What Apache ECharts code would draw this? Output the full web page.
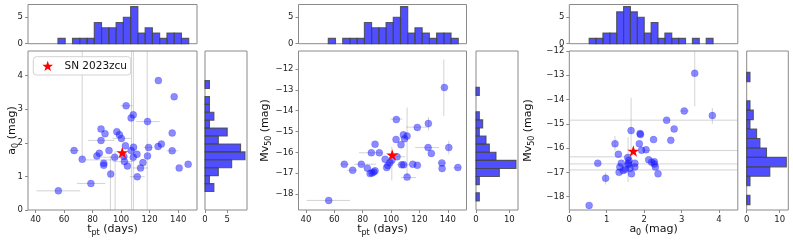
<!DOCTYPE html>
<html><head><meta charset="utf-8">
<script src="https://cdn.jsdelivr.net/npm/echarts@6/dist/echarts.min.js"></script>
<style>html,body{margin:0;padding:0;background:#fff}#c{width:793px;height:243px}</style>
</head><body><div id="c"></div>
<script>
// ---------------- data ----------------
// Panel 1: t_pt vs a0
const tpt1 = [126.1,137.2,103.5,108.5,107.0,118.5,85.9,88.7,97.0,98.8,100.2,135.8,85.9,67.0,72.7,83.0,84.7,87.8,87.8,91.5,92.7,95.5,103.0,107.0,108.7,101.9,104.4,102.3,108.5,111.1,113.6,115.3,118.5,119.3,111.3,125.9,128.2,135.8,140.7,147.0,56.0,78.8];
const a0_1 = [3.85,3.37,3.10,2.83,2.74,2.63,2.41,2.27,2.33,2.24,2.13,2.29,2.07,1.77,1.51,1.61,1.69,1.39,1.33,1.77,1.07,1.57,1.91,1.77,1.87,1.59,1.31,1.44,1.57,1.66,1.25,1.41,1.61,1.86,0.99,1.89,1.96,1.76,1.25,1.36,0.57,0.79];
// Panel 2: t_pt vs Mv50
const tpt2 = [137.6,103.7,126.3,118.5,108.7,111.3,109.5,103.5,107.0,88.7,126.1,140.7,128.4,86.1,91.7,104.2,95.8,100.5,99.1,97.7,96.9,67.0,79.0,72.9,83.3,85.2,86.6,87.8,88.7,107.5,108.9,115.3,118.5,135.8,136.0,147.1,111.3,56.0];
const mv2 = [-12.88,-14.42,-14.61,-14.80,-15.16,-15.22,-15.35,-15.38,-15.64,-15.61,-15.77,-15.77,-16.05,-16.02,-16.02,-16.21,-16.33,-16.38,-16.50,-16.63,-16.73,-16.57,-16.57,-16.86,-16.76,-17.02,-16.99,-16.94,-16.89,-16.60,-16.60,-16.57,-16.62,-16.51,-16.78,-16.73,-17.19,-18.31];
// Panel 3: a0 vs Mv50
const a0_3 = [3.35,3.07,3.82,2.60,2.80,1.65,1.89,1.90,2.71,2.25,1.22,1.87,1.31,1.93,2.05,1.56,1.59,2.12,2.20,2.27,2.30,2.37,0.76,1.39,1.35,1.33,1.44,1.50,1.57,1.62,1.66,1.75,1.75,0.97,0.53,1.58,2.27];
const mv3 = [-12.92,-14.47,-14.66,-14.85,-15.21,-15.28,-15.40,-15.44,-15.68,-15.65,-15.82,-15.82,-16.25,-16.09,-16.07,-16.39,-16.51,-16.48,-16.58,-16.56,-16.78,-17.06,-16.62,-16.62,-16.78,-17.00,-16.92,-16.87,-16.69,-16.83,-17.06,-16.62,-16.78,-17.24,-18.36,-16.62,-16.66];
// SN 2023zcu: [t_pt, a0, Mv50]
const snStar = [100.8, 1.71, -16.12];
const snName = 'SN 2023zcu';

// error bars: horizontal [y, xlo, xhi], vertical [x, ylo, yhi]
const errH1 = [[0.57,40.7,71.3],[0.79,69,89],[1.77,64,70.5],[2.07,76.9,95.3],[3.10,99.5,108.2],[2.13,94,107],[2.63,110.6,127],[1.49,74.8,94.1],[0.99,106,116.5],[1.57,86,105],[1.44,94.1,109.4],[1.25,108,119],[1.76,132,140],[1.86,116,122]];
const errV1 = [[72.7,1.51,5],[92.5,-0.1,1.6],[95.8,-0.1,1.75],[107.3,-0.1,5],[108.6,-0.1,5],[118.3,-0.1,5]];
const errH2 = [[-18.31,40.5,71],[-14.40,99.5,108],[-14.79,110.6,127],[-15.77,117,134],[-16.02,77.4,94],[-16.57,64.5,70.5],[-16.57,74,89.5],[-16.86,69,76],[-16.74,144,149],[-17.21,107,117.6],[-16.6,104,113],[-16.21,100,110],[-16.51,133,139]];
const errV2 = [[137.2,-14.25,-11.53],[126.4,-14.95,-14.3],[111.3,-17.15,-13.85],[140.7,-16.1,-15.45],[100.5,-17.35,-15.74]];
const errH3 = [[-14.85,-1,6],[-14.47,2.95,3.2],[-16.1,2.0,6],[-16.36,-1,1.6],[-16.65,-1,6],[-16.9,-1,6]];
const errV3 = [[3.35,-14.28,-11.5],[3.82,-15.0,-14.35],[1.65,-16.69,-13.93],[1.22,-16.1,-15.5],[0.97,-17.5,-17.0],[1.57,-17.4,-15.55]];

// histograms: counts per bin (low -> high), bin range
const tptHist = [1,0,1,1,1,4,3,3,4,5,7,2,3,2,1,2,2,1];
const tptBinLo = 55.7, tptBinHi = 147.4;
const a0HistRight = [2,1,3,6,9,8,3,5,1,2,1,1,0,1];
const a0RightLo = 0.55, a0RightHi = 3.85;
const a0HistTop = [1,1,2,2,6,7,6,5,2,4,1,2,1,1,0,1,0,1];
const a0TopLo = 0.53, a0TopHi = 3.84;
const mvHist = [1,0,1,7,12,6,4,3,1,2,1,0,0,1];
const mvLo = -18.33, mvHi = -12.88;

// tick labels
const tptTicks = [40,60,80,100,120,140];
const a0Ticks = [0,1,2,3,4];
const mvTicks = [-18,-17,-16,-15,-14,-13,-12];
const histTicks5 = [0,5];
const histTicks10 = [0,10];

// ---------------- chart ----------------
const FONT = 'DejaVu Sans';
const FRAME = '#8a8a8a';
const chart = echarts.init(document.getElementById('c'), null, {renderer: 'canvas'});
const starPath = 'path://M50,0 L61.2,34.5 L97.6,34.5 L68.2,55.9 L79.4,90.5 L50,69.1 L20.6,90.5 L31.8,55.9 L2.4,34.5 L38.8,34.5 Z';
const minus = v => String(v).replace('-', '\u2212');

const rich = {
  a: {fontSize: 11, lineHeight: 16, fontFamily: FONT, color: '#111'},
  s: {fontSize: 8, lineHeight: 8, verticalAlign: 'bottom', fontFamily: FONT, color: '#111'}
};

const grids = [
  {left: 28, top: 51, width: 169, height: 159},
  {left: 28, top: 4.5, width: 169, height: 39.2},
  {left: 205, top: 51, width: 42, height: 159},
  {left: 298.5, top: 51, width: 168, height: 159},
  {left: 298.5, top: 4.5, width: 168, height: 39.2},
  {left: 476, top: 51, width: 42, height: 159},
  {left: 569.3, top: 51, width: 168.5, height: 159},
  {left: 569.3, top: 4.5, width: 168.5, height: 39.2},
  {left: 746.7, top: 51, width: 41.6, height: 159}
].map(g => Object.assign({show: true, borderColor: FRAME, borderWidth: 1, backgroundColor: 'transparent', containLabel: false}, g));

function axis(gi, min, max, ticks, opts) {
  opts = opts || {};
  const show = !!ticks;
  const a = {
    type: 'value', gridIndex: gi, min: min, max: max, scale: true,
    splitLine: {show: false},
    axisLine: {show: false},
    axisTick: {show: show, length: 3, lineStyle: {color: FRAME}, customValues: ticks || undefined},
    axisLabel: {show: show, margin: 5, fontSize: 8.5, fontFamily: FONT, color: '#222', formatter: minus, customValues: ticks || undefined, showMinLabel: true, showMaxLabel: true},
    splitNumber: 5
  };
  if (opts.name) {
    a.name = opts.name;
    a.nameLocation = 'middle';
    a.nameGap = opts.nameGap;
    a.nameMoveOverlap = false;
    a.nameTextStyle = {rich: rich, fontFamily: FONT};
  }
  return a;
}

const X1 = [34.7, 153.2], Y1 = [0, 4.73], Y2 = [-18.77, -11.13], X3 = [0, 4.5], Y3 = [-18.55, -12];
const tptName = '{a|t}{s|pt}{a| (days)}';
const a0Name = '{a|a}{s|0}{a| (mag)}';
const mvName = '{a|Mv}{s|50}{a| (mag)}';

const xAxis = [
  axis(0, X1[0], X1[1], tptTicks, {name: tptName, nameGap: 11}),
  axis(1, X1[0], X1[1], null),
  axis(2, 0, 9.45, histTicks5),
  axis(3, X1[0], X1[1], tptTicks, {name: tptName, nameGap: 11}),
  axis(4, X1[0], X1[1], null),
  axis(5, 0, 12.6, histTicks10),
  axis(6, X3[0], X3[1], a0Ticks, {name: a0Name, nameGap: 11}),
  axis(7, X3[0], X3[1], null),
  axis(8, 0, 12.6, histTicks10)
];
const yAxis = [
  axis(0, Y1[0], Y1[1], a0Ticks, {name: a0Name, nameGap: 8}),
  axis(1, 0, 7.4, histTicks5),
  axis(2, Y1[0], Y1[1], null),
  axis(3, Y2[0], Y2[1], mvTicks, {name: mvName, nameGap: 25.5}),
  axis(4, 0, 7.4, histTicks5),
  axis(5, Y2[0], Y2[1], null),
  axis(6, Y3[0], Y3[1], mvTicks, {name: mvName, nameGap: 33}),
  axis(7, 0, 7.4, histTicks5),
  axis(8, Y3[0], Y3[1], null)
];

function clipRect(cs) { return {x: cs.x, y: cs.y, width: cs.width, height: cs.height}; }

function errSeries(idx, segs, horizontal) {
  return {
    type: 'custom', xAxisIndex: idx, yAxisIndex: idx, silent: true, z: 1,
    data: segs,
    renderItem: function (params, api) {
      let p1, p2;
      if (horizontal) { p1 = api.coord([api.value(1), api.value(0)]); p2 = api.coord([api.value(2), api.value(0)]); }
      else { p1 = api.coord([api.value(0), api.value(1)]); p2 = api.coord([api.value(0), api.value(2)]); }
      const pts = echarts.graphic.clipPointsByRect([p1, p2], clipRect(params.coordSys));
      return {type: 'line', shape: {x1: pts[0][0], y1: pts[0][1], x2: pts[1][0], y2: pts[1][1]},
        style: {stroke: 'rgba(150,150,150,0.42)', lineWidth: 1}};
    }
  };
}

function histSeries(idx, counts, lo, hi, vertical) {
  const w = (hi - lo) / counts.length;
  const data = counts.map((c, i) => [lo + i * w, lo + (i + 1) * w, c]);
  return {
    type: 'custom', xAxisIndex: idx, yAxisIndex: idx, silent: true, z: 2,
    data: data,
    renderItem: function (params, api) {
      const b0 = api.value(0), b1 = api.value(1), c = api.value(2);
      if (!c) return null;
      let p0, p1;
      if (vertical) { p0 = api.coord([b0, 0]); p1 = api.coord([b1, c]); }
      else { p0 = api.coord([0, b0]); p1 = api.coord([c, b1]); }
      return {type: 'rect', shape: {x: Math.min(p0[0], p1[0]), y: Math.min(p0[1], p1[1]), width: Math.abs(p1[0] - p0[0]), height: Math.abs(p1[1] - p0[1])},
        style: {fill: 'rgba(30,30,255,0.78)', stroke: 'rgba(70,70,70,0.85)', lineWidth: 1.1}};
    }
  };
}

function scatterSeries(idx, xs, ys) {
  return {
    type: 'scatter', xAxisIndex: idx, yAxisIndex: idx, silent: true, z: 3,
    symbol: 'circle', symbolSize: 7,
    itemStyle: {color: 'rgba(20,20,255,0.62)', borderColor: 'rgba(20,20,255,0.3)', borderWidth: 0.8},
    data: xs.map((x, i) => [x, ys[i]])
  };
}

function starSeries(idx, x, y, name) {
  return {
    type: 'scatter', name: name, xAxisIndex: idx, yAxisIndex: idx, silent: true, z: 4,
    symbol: starPath, symbolSize: 12, symbolKeepAspect: true,
    itemStyle: {color: '#ff0000', opacity: 1},
    data: [[x, y]]
  };
}

const series = [
  errSeries(0, errH1, true), errSeries(0, errV1, false),
  scatterSeries(0, tpt1, a0_1), starSeries(0, snStar[0], snStar[1], snName),
  histSeries(1, tptHist, tptBinLo, tptBinHi, true),
  histSeries(2, a0HistRight, a0RightLo, a0RightHi, false),

  errSeries(3, errH2, true), errSeries(3, errV2, false),
  scatterSeries(3, tpt2, mv2), starSeries(3, snStar[0], snStar[2], 'star2'),
  histSeries(4, tptHist, tptBinLo, tptBinHi, true),
  histSeries(5, mvHist, mvLo, mvHi, false),

  errSeries(6, errH3, true), errSeries(6, errV3, false),
  scatterSeries(6, a0_3, mv3), starSeries(6, snStar[1], snStar[2], 'star3'),
  histSeries(7, a0HistTop, a0TopLo, a0TopHi, true),
  histSeries(8, mvHist, mvLo, mvHi, false)
];

// legend box drawn as graphic (frame, star marker, label text)
const LEG = {x: 33.3, y: 56.7, w: 97.4, h: 18.3, starX: 47.7, textX: 64.5, r: 5.6};
const starPts = [];
for (let k = 0; k < 10; k++) {
  const ang = -Math.PI / 2 + k * Math.PI / 5;
  const rr = (k % 2 === 0) ? LEG.r : LEG.r * 0.4;
  starPts.push([LEG.starX + rr * Math.cos(ang), LEG.y + LEG.h / 2 + 0.6 + rr * Math.sin(ang)]);
}

chart.setOption({
  animation: false,
  backgroundColor: '#ffffff',
  textStyle: {fontFamily: FONT},
  grid: grids,
  xAxis: xAxis,
  yAxis: yAxis,
  series: series,
  graphic: [
    {type: 'rect', z: 100, shape: {x: LEG.x, y: LEG.y, width: LEG.w, height: LEG.h, r: 3},
      style: {fill: 'rgba(255,255,255,0.85)', stroke: '#d3d3d3', lineWidth: 1}},
    {type: 'polygon', z: 101, shape: {points: starPts}, style: {fill: '#ff0000'}},
    {type: 'text', z: 101, x: LEG.textX, y: LEG.y + LEG.h / 2 + 0.5,
      style: {text: snName, fontSize: 10.5, fontFamily: FONT, fill: '#111', verticalAlign: 'middle', align: 'left'}}
  ]
});
</script></body></html>
